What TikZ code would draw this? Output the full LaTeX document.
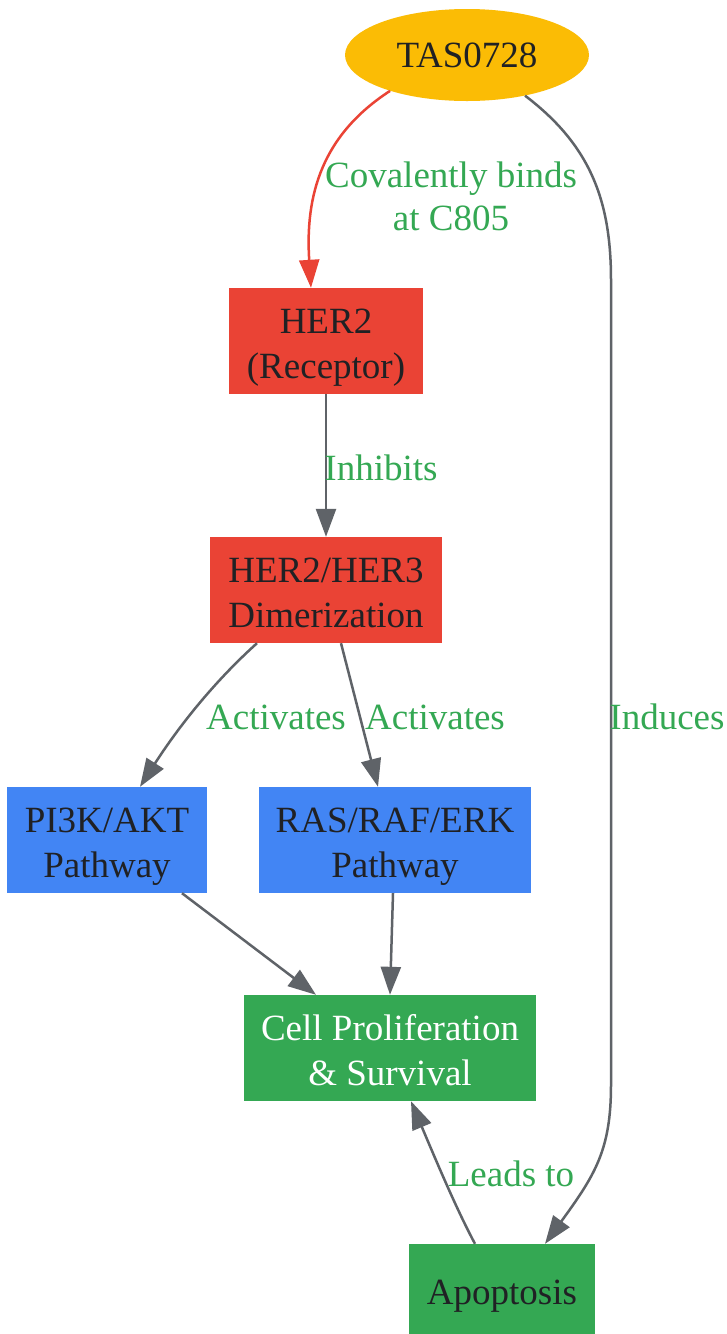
\documentclass[tikz,border=0pt]{standalone}
\usepackage{fontspec}
\setmainfont{Liberation Serif}
\usetikzlibrary{arrows.meta,shapes.geometric}
\definecolor{cyellow}{HTML}{FBBC05}
\definecolor{cred}{HTML}{EA4335}
\definecolor{cblue}{HTML}{4285F4}
\definecolor{cgreen}{HTML}{34A853}
\definecolor{cgray}{HTML}{5F6368}
\definecolor{ctext}{HTML}{202124}
\newcommand\twoln[2]{\rule{0pt}{41pt}#1\\#2\rule[-12pt]{0pt}{0pt}}
\begin{document}
\begin{tikzpicture}[x=1pt,y=1pt,
  every node/.style={font=\fontsize{37}{45}\selectfont, align=center, text=ctext, inner sep=0pt},
  box/.style={rectangle, minimum height=106pt},
  lbl/.style={text=cgreen, font=\fontsize{37}{43}\selectfont},
  conn/.style={draw=cgray, line width=2.5pt, -{Triangle[length=28pt,width=20pt]}},
  redconn/.style={conn, draw=cred, -{Triangle[length=28pt,width=20pt,fill=cred]}}
]
\clip (0,0) rectangle (727,-1334);
\fill[white] (0,0) rectangle (727,-1334);

\node[ellipse, fill=cyellow, minimum width=244pt, minimum height=92pt] (tas) at (467,-55) {TAS0728};
\node[box, fill=cred, minimum width=194pt] (her2) at (326,-341) {\twoln{HER2}{(Receptor)}};
\node[box, fill=cred, minimum width=232pt] (her3) at (326,-590) {\twoln{HER2/HER3}{Dimerization}};
\node[box, fill=cblue, minimum width=200pt] (pi3k) at (107,-840) {\twoln{PI3K/AKT}{Pathway}};
\node[box, fill=cblue, minimum width=272pt] (ras) at (395,-840) {\twoln{RAS/RAF/ERK}{Pathway}};
\node[box, fill=cgreen, minimum width=292pt, text=white] (cell) at (390,-1048) {\twoln{Cell Proliferation}{\& Survival}};
\node[rectangle, fill=cgreen, minimum width=186pt, minimum height=96pt] (apop) at (502,-1292) {\rule{0pt}{33pt}Apoptosis};

% connectors
\draw[redconn] (tas.205) .. controls (322,-135) and (305,-195) .. ([xshift=-15pt]her2.north);
\draw[conn] (tas.325) .. controls (590,-145) and (611,-200) .. (611,-280)
  -- (611,-1085) .. controls (611,-1150) and (595,-1175) .. ([xshift=43pt]apop.north);
\draw[conn] (her2.south) -- (her3.north);
\draw[conn] ([xshift=-69pt]her3.south) .. controls (205,-690) and (170,-740) .. ([xshift=33pt]pi3k.north);
\draw[conn] ([xshift=15pt]her3.south) -- ([xshift=-17pt]ras.north);
\draw[conn] ([xshift=75pt]pi3k.south) -- ([xshift=-74pt]cell.north);
\draw[conn] ([xshift=-2pt]ras.south) -- (cell.north);
\draw[conn] ([xshift=-27pt]apop.north) .. controls (458,-1212) and (440,-1170) .. ([xshift=21pt]cell.south);

% labels
\node[lbl] (l1) at (451,-196) {Covalently binds\\at C805};
\node[lbl] (l2) at (381,-468) {Inhibits};
\node[lbl] (l3) at (276,-717) {Activates};
\node[lbl] (l4) at (435,-717) {Activates};
\node[lbl] (l5) at (667,-717) {Induces};
\node[lbl] (l6) at (511,-1174) {Leads to};
\end{tikzpicture}
\end{document}
